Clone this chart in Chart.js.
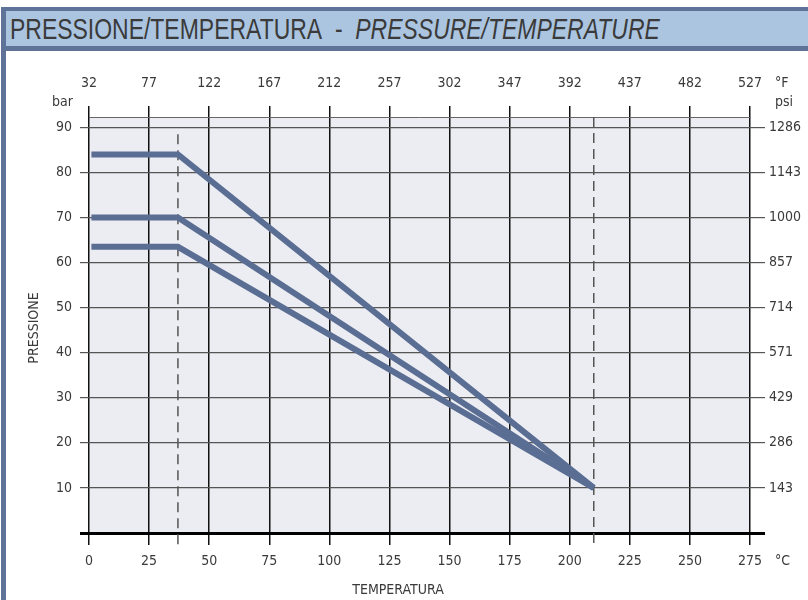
<!DOCTYPE html>
<html>
<head>
<meta charset="utf-8">
<script src="https://cdn.jsdelivr.net/npm/chart.js@4.4.1/dist/chart.umd.min.js"></script>
<style>
  body { margin: 0; background: #fff; }
  #wrap { position: relative; width: 808px; height: 600px; overflow: hidden; }
  canvas { position: absolute; left: 0; top: 0; }
  #frame { position: absolute; left: 1px; top: 46px; width: 5px; height: 554px; background: #5f7297; }
  #title {
    position: absolute; left: 1px; top: 7px; width: 802px; height: 35px;
    background: #abc5e1; border-top: 4px solid #5f7297; border-bottom: 5px solid #5f7297;
    border-left: 5px solid #5f7297; padding-left: 4px;
    font: 29px "Liberation Sans", Arial, sans-serif;
    color: #3a3a3a; line-height: 37px; white-space: nowrap;
  }
  #titleText { display: inline-block; transform-origin: 0 50%; }
</style>
</head>
<body>
<div id="wrap">
  <canvas id="ptChart" width="808" height="600"></canvas>
  <div id="frame"></div>
  <div id="title"><span id="titleText">PRESSIONE/TEMPERATURA&nbsp;&nbsp;-&nbsp;&nbsp;<i>PRESSURE/TEMPERATURE</i></span></div>
</div>
<script>
// tick labels
const celsiusTicks = [0, 25, 50, 75, 100, 125, 150, 175, 200, 225, 250, 275];
const fahrenheitTicks = [32, 77, 122, 167, 212, 257, 302, 347, 392, 437, 482, 527];
const barTicks = [0, 10, 20, 30, 40, 50, 60, 70, 80, 90];
const psiTicks = ["", 143, 286, 429, 571, 714, 857, 1000, 1143, 1286];

// curves (temperature °C -> pressure bar)
const curveTemps = [1, 37, 210];
const curveHigh = [84, 84, 10];
const curveMid = [70, 70, 10];
const curveLow = [63.5, 63.5, 10];

// dashed limit lines
const limitTemps = [37, 210];
const limitTops = [88.5, 92.3];

const FONT = "'Liberation Sans Narrow', 'DejaVu Sans Condensed', sans-serif";
const LINE_COLOR = "#5a6d93";

// squeeze the title to a narrow look
const titleText = document.getElementById("titleText");
titleText.style.transform = "scaleX(" + (650 / titleText.offsetWidth) + ")";

function points(values) {
  return curveTemps.map((t, i) => ({ x: t, y: values[i] }));
}

const plotBackground = {
  id: "plotBackground",
  beforeDraw(chart) {
    const { ctx, chartArea: a } = chart;
    ctx.save();
    ctx.fillStyle = "#ecedf2";
    ctx.fillRect(a.left, a.top, a.right - a.left, a.bottom - a.top);
    ctx.restore();
  },
};

const limitLines = {
  id: "limitLines",
  beforeDatasetsDraw(chart) {
    const { ctx, chartArea: a, scales } = chart;
    ctx.save();
    ctx.strokeStyle = "#555";
    ctx.lineWidth = 1.5;
    ctx.setLineDash([10, 6]);
    limitTemps.forEach((t, i) => {
      const x = scales.x.getPixelForValue(t);
      ctx.beginPath();
      ctx.moveTo(x, scales.y.getPixelForValue(limitTops[i]));
      ctx.lineTo(x, a.bottom + 12);
      ctx.stroke();
    });
    ctx.restore();
  },
};

const extraLabels = {
  id: "extraLabels",
  afterDraw(chart) {
    const ctx = chart.ctx;
    ctx.save();
    ctx.fillStyle = "#3a3a3a";
    ctx.font = "14px " + FONT;
    ctx.textBaseline = "middle";
    ctx.textAlign = "right";
    ctx.fillText("bar", 73, 102);
    ctx.textAlign = "left";
    ctx.fillText("°F", 775, 83);
    ctx.fillText("psi", 775, 102);
    ctx.fillText("°C", 775, 561);
    ctx.textAlign = "center";
    ctx.fillText("TEMPERATURA", 398, 590);
    ctx.translate(34, 328);
    ctx.rotate(-Math.PI / 2);
    ctx.fillText("PRESSIONE", 0, 0);
    ctx.restore();
  },
};

const gridColor = (c) => (c.tick && c.tick.value === 0 ? "#000" : "#555");
const gridWidth = (c) => (c.tick && c.tick.value === 0 ? 3 : 1.2);
const tickFont = { family: FONT, size: 14 };

new Chart(document.getElementById("ptChart").getContext("2d"), {
  type: "line",
  data: {
    datasets: [curveHigh, curveMid, curveLow].map((v) => ({
      data: points(v),
      borderColor: LINE_COLOR,
      borderWidth: 6,
      pointRadius: 0,
      tension: 0,
      fill: false,
      borderCapStyle: "butt",
    })),
  },
  options: {
    responsive: false,
    animation: false,
    layout: { padding: { top: 50, left: 0, right: 0, bottom: 0 } },
    plugins: { legend: { display: false }, tooltip: { enabled: false } },
    scales: {
      x: {
        type: "linear",
        position: "bottom",
        min: 0,
        max: 275,
        afterBuildTicks: (s) => { s.ticks = celsiusTicks.map((v) => ({ value: v })); },
        afterFit: (s) => { s.height = 67; },
        ticks: { color: "#3a3a3a", font: tickFont, padding: 8, maxRotation: 0, autoSkip: false },
        grid: { color: "#111", lineWidth: 1.5, tickLength: 12 },
        border: { display: false },
      },
      x2: {
        type: "linear",
        position: "top",
        min: 0,
        max: 275,
        afterBuildTicks: (s) => { s.ticks = celsiusTicks.map((v) => ({ value: v })); },
        afterFit: (s) => { s.height = 67; },
        ticks: {
          color: "#3a3a3a", font: tickFont, padding: 14, maxRotation: 0, autoSkip: false,
          callback: (v, i) => fahrenheitTicks[i],
        },
        grid: { drawOnChartArea: false, color: "#111", lineWidth: 1.5, tickLength: 11 },
        border: { display: true, color: "#666", width: 1 },
      },
      y: {
        position: "left",
        min: 0,
        max: 92.3,
        afterBuildTicks: (s) => { s.ticks = barTicks.map((v) => ({ value: v })); },
        afterFit: (s) => { s.width = 89; },
        ticks: {
          color: "#3a3a3a", font: tickFont, padding: 8,
          callback: (v) => (v === 0 ? "" : v),
        },
        grid: { color: gridColor, lineWidth: gridWidth, tickLength: 9 },
        border: { display: false },
      },
      y2: {
        position: "right",
        min: 0,
        max: 92.3,
        afterBuildTicks: (s) => { s.ticks = barTicks.map((v) => ({ value: v })); },
        afterFit: (s) => { s.width = 58; },
        ticks: {
          color: "#3a3a3a", font: tickFont, padding: 4,
          callback: (v, i) => psiTicks[i],
        },
        grid: { drawOnChartArea: false, color: gridColor, lineWidth: gridWidth, tickLength: 15 },
        border: { display: false },
      },
    },
  },
  plugins: [plotBackground, limitLines, extraLabels],
});
</script>
</body>
</html>
